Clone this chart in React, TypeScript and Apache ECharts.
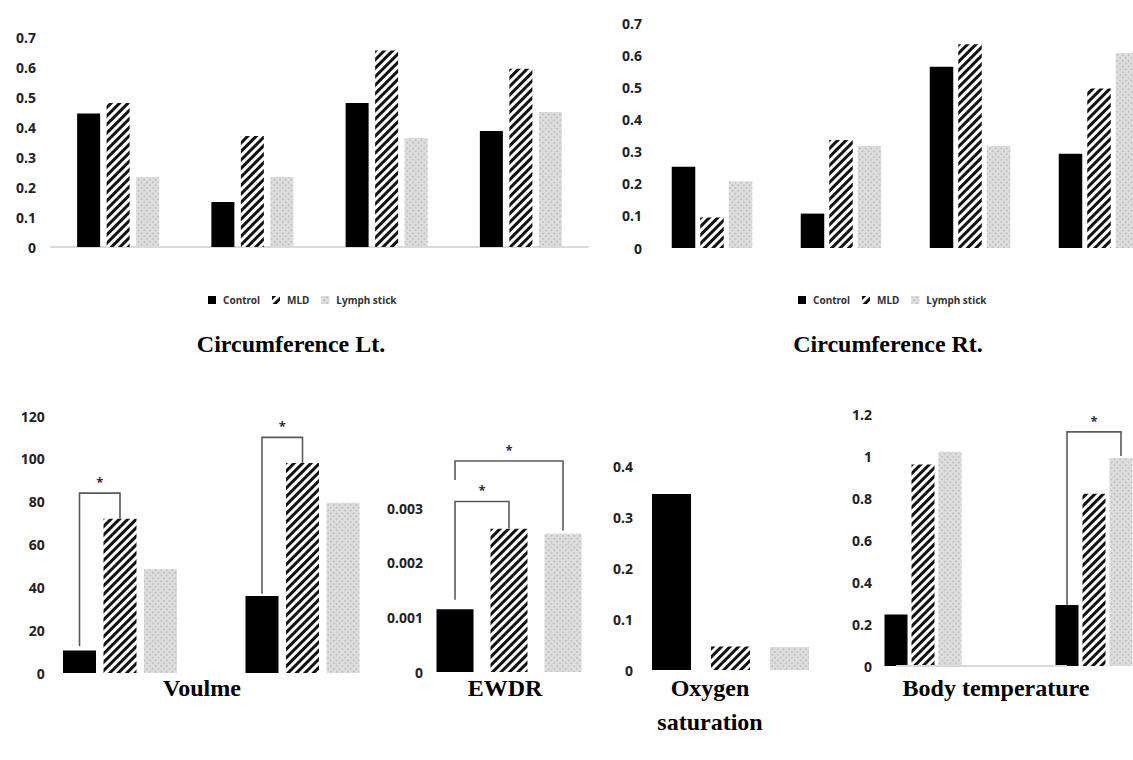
import React, { useEffect, useRef } from 'react';
import * as echarts from 'echarts';

// ---------------- data ----------------
const SERIES_NAMES = ['Control', 'MLD', 'Lymph stick'];

const circLtCategories = ['1', '2', '3', '4'];
const circLtControl = [0.445, 0.15, 0.48, 0.387];
const circLtMLD = [0.48, 0.37, 0.655, 0.594];
const circLtLymph = [0.233, 0.233, 0.363, 0.45];
const circLtTicks = [0, 0.1, 0.2, 0.3, 0.4, 0.5, 0.6, 0.7];

const circRtCategories = ['1', '2', '3', '4'];
const circRtControl = [0.253, 0.107, 0.564, 0.293];
const circRtMLD = [0.095, 0.336, 0.634, 0.496];
const circRtLymph = [0.207, 0.317, 0.317, 0.607];
const circRtTicks = [0, 0.1, 0.2, 0.3, 0.4, 0.5, 0.6, 0.7];

const volumeCategories = ['1', '2'];
const volumeControl = [10.5, 36];
const volumeMLD = [72, 98];
const volumeLymph = [48.5, 79.5];
const volumeTicks = [0, 20, 40, 60, 80, 100, 120];
// [category, fromBar, toBar, leftLegBottom, bracketTop, rightLegBottom]
const volumeBrackets = [
  [0, 0, 1, 12.5, 84, 72],
  [1, 0, 1, 37, 110, 98],
];

const ewdrCategories = ['1'];
const ewdrControl = [0.00115];
const ewdrMLD = [0.00262];
const ewdrLymph = [0.00253];
const ewdrTicks = [0, 0.001, 0.002, 0.003];
const ewdrBrackets = [
  [0, 0, 1, 0.00132, 0.00312, 0.00263],
  [0, 0, 2, 0.00351, 0.00386, 0.00259],
];

const oxyCategories = ['1'];
const oxyControl = [0.345];
const oxyMLD = [0.046];
const oxyLymph = [0.045];
const oxyTicks = [0, 0.1, 0.2, 0.3, 0.4];

const tempCategories = ['1', '2'];
const tempControl = [0.245, 0.29];
const tempMLD = [0.96, 0.82];
const tempLymph = [1.02, 0.99];
const tempTicks = [0, 0.2, 0.4, 0.6, 0.8, 1, 1.2];
const tempBrackets = [[1, 0, 2, 0.29, 1.115, 1.0]];

const TITLES = ['Circumference Lt.', 'Circumference Rt.', 'Voulme', 'EWDR', 'Oxygen\nsaturation', 'Body temperature'];

// ---------------- styles ----------------
const BAR_STYLES: any[] = [
  { color: '#000000' },
  {
    color: '#ffffff',
    decal: {
      symbol: 'rect',
      symbolSize: 1,
      color: '#111111',
      dashArrayX: [1, 0],
      dashArrayY: [2.6, 3],
      rotation: -Math.PI / 4,
    },
  },
  {
    color: '#dedede',
    decal: {
      symbol: 'rect',
      symbolSize: 1,
      color: '#c4c4c4',
      dashArrayX: [1.5, 1.5],
      dashArrayY: [1.5, 1.5],
      rotation: Math.PI / 4,
    },
  },
];

type Panel = {
  cats: string[];
  values: number[][];
  ticks: number[];
  brackets?: number[][];
  grid: { left: number; top: number; width: number; height: number };
  barWidth: number;
  gapPx: number;
  labelMargin: number;
  axisLine?: boolean;
  midLine?: boolean;
};

const panels: Panel[] = [
  {
    cats: circLtCategories,
    values: [circLtControl, circLtMLD, circLtLymph],
    ticks: circLtTicks,
    grid: { left: 51, top: 37, width: 537, height: 210 },
    barWidth: 23,
    gapPx: 6.5,
    labelMargin: 15,
    axisLine: true,
  },
  {
    cats: circRtCategories,
    values: [circRtControl, circRtMLD, circRtLymph],
    ticks: circRtTicks,
    grid: { left: 647.5, top: 23, width: 516, height: 225 },
    barWidth: 23.5,
    gapPx: 5,
    labelMargin: 5.5,
  },
  {
    cats: volumeCategories,
    values: [volumeControl, volumeMLD, volumeLymph],
    ticks: volumeTicks,
    brackets: volumeBrackets,
    grid: { left: 28.75, top: 416, width: 365, height: 257 },
    barWidth: 33,
    gapPx: 7.5,
    labelMargin: -16,
  },
  {
    cats: ewdrCategories,
    values: [ewdrControl, ewdrMLD, ewdrLymph],
    ticks: ewdrTicks,
    brackets: ewdrBrackets,
    grid: { left: 430, top: 508, width: 158, height: 164 },
    barWidth: 37,
    gapPx: 17,
    labelMargin: 7,
  },
  {
    cats: oxyCategories,
    values: [oxyControl, oxyMLD, oxyLymph],
    ticks: oxyTicks,
    grid: { left: 640, top: 466, width: 181, height: 204 },
    barWidth: 39,
    gapPx: 20,
    labelMargin: 7,
  },
  {
    cats: tempCategories,
    values: [tempControl, tempMLD, tempLymph],
    ticks: tempTicks,
    brackets: tempBrackets,
    grid: { left: 837.5, top: 414, width: 342, height: 252 },
    barWidth: 23,
    gapPx: 4,
    labelMargin: -34.5,
    midLine: true,
  },
];

const titlePos = [
  { x: 291, y: 344 },
  { x: 888, y: 344 },
  { x: 202, y: 688 },
  { x: 505, y: 688 },
  { x: 710, y: 705 },
  { x: 996, y: 688 },
];

function bracketRenderer(bw: number, gapPx: number) {
  return (params: any, api: any) => {
    const cat = api.value(0);
    const from = api.value(1);
    const to = api.value(2);
    const step = bw + gapPx;
    const off = (i: number) => (i - 1) * step;
    const pL = api.coord([cat, api.value(3)]);
    const pT = api.coord([cat, api.value(4)]);
    const pR = api.coord([cat, api.value(5)]);
    const xL = pL[0] + off(from);
    const xR = pL[0] + off(to);
    return {
      type: 'group',
      children: [
        {
          type: 'polyline',
          shape: { points: [[xL, pL[1]], [xL, pT[1]], [xR, pT[1]], [xR, pR[1]]] },
          style: { stroke: '#5a5a5a', lineWidth: 1.6, fill: null },
        },
        {
          type: 'text',
          style: {
            text: '*',
            x: (xL + xR) / 2,
            y: pT[1] - 11,
            textAlign: 'center',
            textVerticalAlign: 'middle',
            fontSize: 13,
            fontFamily: 'Noto Sans',
            fontWeight: 'bold',
            fill: '#333',
          },
        },
      ],
    };
  };
}

function buildOption() {
  const grid: any[] = [];
  const xAxis: any[] = [];
  const yAxis: any[] = [];
  const series: any[] = [];

  panels.forEach((p, i) => {
    grid.push({ ...p.grid, containLabel: false, outerBoundsMode: 'none' });
    xAxis.push({
      type: 'category',
      gridIndex: i,
      data: p.cats,
      axisTick: { show: false },
      axisLabel: { show: false },
      axisLine: { show: !!p.axisLine, lineStyle: { color: '#d9d9d9', width: 2 } },
    });
    const tmin = p.ticks[0];
    const tmax = p.ticks[p.ticks.length - 1];
    yAxis.push({
      type: 'value',
      gridIndex: i,
      min: tmin,
      max: tmax,
      interval: p.ticks[1] - p.ticks[0],
      axisLine: { show: false },
      axisTick: { show: false },
      splitLine: { show: false },
      axisLabel: {
        margin: p.labelMargin,
        fontSize: 14,
        fontWeight: 'bold',
        fontFamily: 'Noto Sans',
        color: '#222',
        formatter: (v: number) => String(Number(v.toFixed(6))),
      },
    });
    p.values.forEach((vals, k) => {
      const s: any = {
        type: 'bar',
        name: SERIES_NAMES[k],
        xAxisIndex: i,
        yAxisIndex: i,
        data: vals,
        barWidth: p.barWidth,
        barGap: (p.gapPx / p.barWidth) * 100 + '%',
        itemStyle: BAR_STYLES[k],
        z: 2,
      };
      if (k === 0 && p.midLine) {
        s.markLine = {
          silent: true,
          symbol: 'none',
          label: { show: false },
          lineStyle: { color: '#d9d9d9', width: 2, type: 'solid' },
          data: [[{ coord: [p.cats[0], 0] }, { coord: [p.cats[p.cats.length - 1], 0] }]],
        };
      }
      series.push(s);
    });
    if (p.brackets) {
      series.push({
        type: 'custom',
        name: 'sig',
        xAxisIndex: i,
        yAxisIndex: i,
        clip: false,
        z: 5,
        encode: { x: 0, y: 4 },
        data: p.brackets,
        renderItem: bracketRenderer(p.barWidth, p.gapPx),
      });
    }
  });

  const legendCommon = {
    data: SERIES_NAMES,
    orient: 'horizontal',
    itemWidth: 8,
    itemHeight: 8,
    itemGap: 12,
    icon: 'rect',
    textStyle: { fontSize: 10, fontWeight: 'bold', fontFamily: 'Noto Sans', color: '#333', padding: [0, 0, 0, 2] },
    selectedMode: false,
  };

  const graphic: any[] = TITLES.map((t, i) => ({
    type: 'text',
    x: titlePos[i].x,
    y: titlePos[i].y,
    style: {
      text: t,
      textAlign: 'center',
      textVerticalAlign: 'middle',
      fontFamily: 'Liberation Serif',
      fontWeight: 'bold',
      fontSize: 24,
      lineHeight: 34,
      fill: '#000',
    },
  }));

  return {
    animation: false,
    backgroundColor: '#ffffff',
    grid,
    xAxis,
    yAxis,
    series,
    legend: [
      { ...legendCommon, left: 203, top: 290 },
      { ...legendCommon, left: 793, top: 290 },
    ],
    graphic,
  };
}

export default function App() {
  const ref = useRef<HTMLDivElement>(null);
  useEffect(() => {
    if (!ref.current) return;
    const chart = echarts.init(ref.current, null, { renderer: 'svg' });
    chart.setOption(buildOption() as any);
    return () => chart.dispose();
  }, []);
  return (
    <div
      ref={ref}
      style={{ position: 'fixed', left: 0, top: 0, width: 1133, height: 760, background: '#fff' }}
    />
  );
}
